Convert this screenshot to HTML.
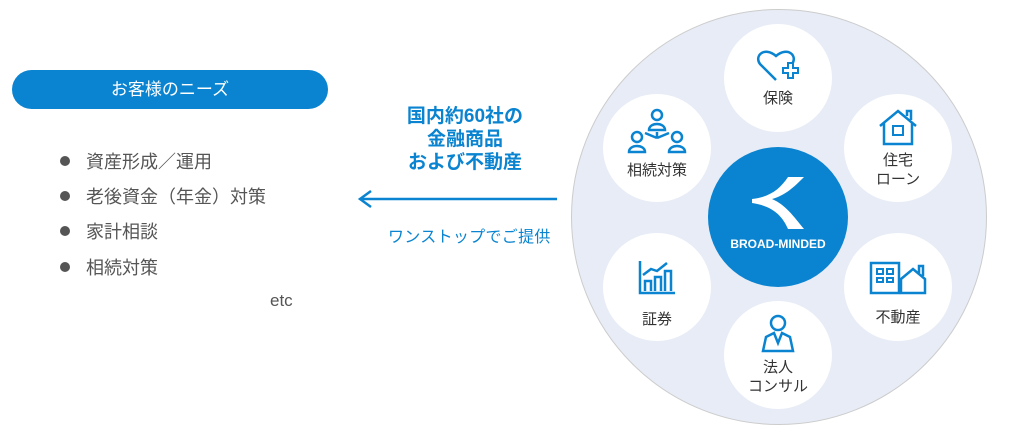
<!DOCTYPE html>
<html><head><meta charset="utf-8"><style>
body{margin:0;width:1024px;height:434px;background:#fff;position:relative;overflow:hidden;font-family:"Liberation Sans","Noto Sans CJK JP",sans-serif}
.a{position:absolute}
.pill{left:12px;top:70px;width:316px;height:39px;border-radius:20px;background:#0a84d0;color:#fff;font-size:17px;line-height:39px;text-align:center}
.li{left:60px;font-size:18px;color:#555;line-height:22px}
.li:before{content:"";display:inline-block;width:10px;height:10px;border-radius:50%;background:#555;margin-right:16px;vertical-align:2px}
.bt{left:370px;width:190px;text-align:center;color:#0a84d0;font-weight:bold;font-size:19px;line-height:23px;top:105px}
.c{position:absolute;width:108px;height:108px;border-radius:50%;background:#fff;text-align:center;font-size:15px;color:#333;line-height:19px}
</style></head><body>
<div class="a pill">お客様のニーズ</div>
<div class="a li" style="top:151px">資産形成／運用</div>
<div class="a li" style="top:186px">老後資金（年金）対策</div>
<div class="a li" style="top:221px">家計相談</div>
<div class="a li" style="top:257px">相続対策</div>
<div class="a" style="left:270px;top:291px;font-size:17px;color:#555">etc</div>
<div class="a bt">国内約60社の<br>金融商品<br>および不動産</div>
<svg class="a" style="left:355px;top:188px" width="205" height="24"><line x1="5" y1="11" x2="202" y2="11" stroke="#0a84d0" stroke-width="2.5"/><polyline points="16,3 5,11 16,19" fill="none" stroke="#0a84d0" stroke-width="2.5"/></svg>
<div class="a" style="left:388px;top:223px;font-size:16px;color:#0a84d0;letter-spacing:0.3px">ワンストップでご提供</div>
<div class="a" style="left:571px;top:9px;width:414px;height:414px;border-radius:50%;background:#e7ecf6;border:1px solid #ccc"></div>
<div class="a" style="left:708px;top:147px;width:140px;height:140px;border-radius:50%;background:#0a84d0;color:#fff;text-align:center">
<svg style="position:absolute;left:40px;top:28px" width="60" height="56"><path d="M40 2 L56 2 C46 12 38 20 24 24 C38 30 46 42 56 54 L40 54 C34 40 24 31 4 28 L4 24 C22 22 32 14 40 2Z" fill="#fff"/></svg>
<div style="position:absolute;top:90px;width:140px;font-size:12px;font-weight:bold">BROAD-MINDED</div></div>
<div class="c" style="left:724px;top:24px"><svg style="margin-top:24px" width="44" height="36"><path d="M20 32 L4 16 C-2 8 8 -2 20 8 C32 -2 42 8 36 16" fill="none" stroke="#0a84d0" stroke-width="2.5"/><path d="M27 20h5v-5h5v5h5v5h-5v5h-5v-5h-5z" fill="#fff" stroke="#0a84d0" stroke-width="2"/></svg><div>保険</div></div>
<div class="c" style="left:844px;top:94px"><svg style="margin-top:14px" width="40" height="38"><path d="M2 18 L20 3 L38 18 M6 15 V36 H34 V15 M29 8 V3 H33 V12" fill="none" stroke="#0a84d0" stroke-width="2.5"/><rect x="15" y="18" width="10" height="9" fill="none" stroke="#0a84d0" stroke-width="2"/></svg><div>住宅<br>ローン</div></div>
<div class="c" style="left:844px;top:233px"><svg style="margin-top:28px" width="58" height="34"><rect x="2" y="2" width="28" height="30" fill="none" stroke="#0a84d0" stroke-width="2.5"/><path d="M8 8h6v5h-6zM18 8h6v5h-6zM8 17h6v4h-6zM18 17h6v4h-6z" fill="none" stroke="#0a84d0" stroke-width="2"/><path d="M32 32V18L44 8L56 18V32Z M50 12V5h4v10" fill="none" stroke="#0a84d0" stroke-width="2.5"/></svg><div style="margin-top:8px">不動産</div></div>
<div class="c" style="left:724px;top:301px"><svg style="margin-top:12px" width="34" height="40"><circle cx="17" cy="10" r="7" fill="none" stroke="#0a84d0" stroke-width="2.5"/><path d="M2 38 L5 24 L13 20 L17 30 L21 20 L29 24 L32 38Z" fill="none" stroke="#0a84d0" stroke-width="2.5"/></svg><div>法人<br>コンサル</div></div>
<div class="c" style="left:603px;top:233px"><svg style="margin-top:26px" width="40" height="36"><path d="M3 2V34H38 M8 32V22h6v10 M18 32V18h6v14 M28 32V12h6v20 M6 16 L14 10 L20 12 L30 4" fill="none" stroke="#0a84d0" stroke-width="2.5"/></svg><div style="margin-top:10px">証券</div></div>
<div class="c" style="left:603px;top:94px"><svg style="margin-top:14px" width="60" height="46"><g fill="none" stroke="#0a84d0" stroke-width="2.5"><circle cx="30" cy="7" r="5"/><path d="M22 22c0-8 16-8 16 0z"/><circle cx="10" cy="29" r="5"/><path d="M2 44c0-8 16-8 16 0z"/><circle cx="50" cy="29" r="5"/><path d="M42 44c0-8 16-8 16 0z"/><path d="M30 24v6 M30 30l-12-5 M30 30l12-5"/></g></svg><div style="margin-top:2px">相続対策</div></div>
</body></html>
